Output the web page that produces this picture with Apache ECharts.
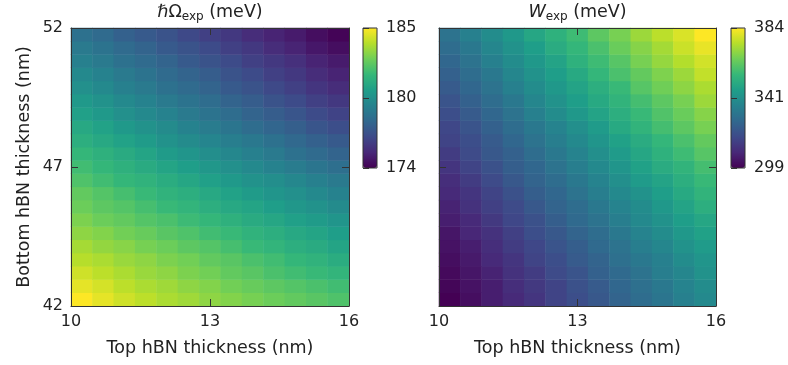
<!DOCTYPE html>
<html>
<head>
<meta charset="utf-8">
<script src="https://cdn.jsdelivr.net/npm/echarts/dist/echarts.min.js"></script>
<style>
html, body { margin: 0; padding: 0; background: #fff; }
#main { width: 788px; height: 365px; }
</style>
</head>
<body>
<div id="main"></div>
<script>
var myChart = echarts.init(document.getElementById('main'));

// top hBN thickness (nm), 13 columns
var xCats = ['10', '10.5', '11', '11.5', '12', '12.5', '13', '13.5', '14', '14.5', '15', '15.5', '16'];
// bottom hBN thickness (nm), 21 rows, from 42 upward
var yCats = ['42', '42.5', '43', '43.5', '44', '44.5', '45', '45.5', '46', '46.5', '47',
    '47.5', '48', '48.5', '49', '49.5', '50', '50.5', '51', '51.5', '52'];

var xTickLabels = ['10', '13', '16'];
var yTickLabels = ['42', '47', '52'];
var omegaTicks = ['174', '180', '185'];
var widthTicks = ['299', '341', '384'];
var omegaRange = [174.4, 185.4];
var widthRange = [298.9, 383.7];

// hbar*Omega_exp (meV), one row per bottom thickness (42 nm first)
var omegaRows = [
    [185.4, 185.0, 184.6, 184.3, 184.0, 183.8, 183.5, 183.3, 183.1, 182.9, 182.7, 182.5, 182.3],
    [185.0, 184.7, 184.3, 184.0, 183.8, 183.5, 183.3, 183.0, 182.8, 182.6, 182.4, 182.2, 182.0],
    [184.6, 184.3, 184.0, 183.7, 183.5, 183.2, 183.0, 182.7, 182.5, 182.2, 182.0, 181.8, 181.6],
    [184.2, 184.0, 183.7, 183.5, 183.2, 183.0, 182.7, 182.5, 182.2, 182.0, 181.7, 181.5, 181.2],
    [183.9, 183.6, 183.4, 183.1, 182.9, 182.6, 182.4, 182.1, 181.8, 181.6, 181.3, 181.1, 180.8],
    [183.5, 183.3, 183.0, 182.8, 182.5, 182.3, 182.0, 181.8, 181.5, 181.3, 181.0, 180.8, 180.5],
    [183.2, 182.9, 182.7, 182.4, 182.2, 181.9, 181.7, 181.4, 181.1, 180.9, 180.6, 180.4, 180.1],
    [182.9, 182.6, 182.4, 182.1, 181.8, 181.6, 181.3, 181.0, 180.8, 180.5, 180.2, 180.0, 179.7],
    [182.7, 182.4, 182.1, 181.8, 181.5, 181.3, 181.0, 180.7, 180.4, 180.1, 179.9, 179.6, 179.3],
    [182.3, 182.0, 181.7, 181.5, 181.2, 180.9, 180.6, 180.3, 180.0, 179.8, 179.5, 179.2, 178.9],
    [182.0, 181.7, 181.4, 181.1, 180.8, 180.5, 180.2, 179.9, 179.6, 179.3, 179.0, 178.7, 178.4],
    [181.7, 181.4, 181.1, 180.8, 180.4, 180.1, 179.8, 179.5, 179.2, 178.9, 178.5, 178.2, 177.9],
    [181.3, 181.0, 180.7, 180.4, 180.0, 179.7, 179.4, 179.1, 178.8, 178.5, 178.1, 177.8, 177.5],
    [181.0, 180.7, 180.3, 180.0, 179.7, 179.3, 179.0, 178.7, 178.3, 178.0, 177.7, 177.3, 177.0],
    [180.6, 180.3, 179.9, 179.6, 179.3, 178.9, 178.6, 178.3, 177.9, 177.6, 177.3, 176.9, 176.6],
    [180.3, 180.0, 179.6, 179.3, 178.9, 178.6, 178.3, 177.9, 177.6, 177.2, 176.9, 176.5, 176.2],
    [179.9, 179.6, 179.2, 178.9, 178.5, 178.2, 177.9, 177.5, 177.2, 176.8, 176.5, 176.1, 175.8],
    [179.6, 179.3, 178.9, 178.6, 178.2, 177.9, 177.6, 177.2, 176.9, 176.5, 176.2, 175.8, 175.5],
    [179.2, 178.9, 178.5, 178.2, 177.9, 177.5, 177.2, 176.9, 176.5, 176.2, 175.9, 175.5, 175.2],
    [178.9, 178.6, 178.2, 177.9, 177.5, 177.2, 176.9, 176.5, 176.2, 175.8, 175.5, 175.1, 174.8],
    [178.5, 178.2, 177.8, 177.5, 177.2, 176.8, 176.5, 176.2, 175.8, 175.5, 175.2, 174.8, 174.5]
];

// W_exp (meV), same layout
var widthRows = [
    [299, 302, 306, 309, 312, 316, 319, 322, 326, 329, 332, 336, 339],
    [300, 303, 306, 310, 313, 316, 320, 323, 327, 330, 333, 337, 340],
    [301, 304, 307, 311, 314, 318, 321, 325, 328, 331, 335, 338, 342],
    [302, 305, 309, 312, 316, 319, 323, 326, 330, 333, 336, 340, 343],
    [303, 306, 310, 314, 317, 321, 324, 328, 331, 335, 338, 342, 345],
    [304, 308, 311, 315, 319, 322, 326, 329, 333, 337, 340, 344, 347],
    [306, 309, 313, 317, 320, 324, 328, 331, 335, 339, 342, 346, 349],
    [307, 311, 315, 318, 322, 326, 329, 333, 337, 340, 344, 348, 352],
    [309, 312, 316, 320, 324, 327, 331, 335, 339, 342, 346, 350, 354],
    [310, 314, 318, 322, 326, 329, 333, 337, 341, 345, 348, 352, 356],
    [312, 316, 320, 324, 327, 331, 335, 339, 343, 347, 351, 354, 358],
    [314, 318, 322, 325, 329, 333, 337, 341, 345, 349, 353, 357, 361],
    [316, 319, 323, 327, 331, 335, 339, 343, 347, 351, 355, 359, 363],
    [317, 321, 325, 329, 333, 337, 341, 345, 350, 354, 358, 362, 366],
    [319, 323, 327, 331, 336, 340, 344, 348, 352, 356, 360, 364, 368],
    [321, 325, 329, 333, 338, 342, 346, 350, 354, 358, 362, 366, 371],
    [323, 327, 331, 336, 340, 344, 348, 352, 356, 361, 365, 369, 373],
    [325, 329, 333, 338, 342, 346, 350, 355, 359, 363, 367, 371, 376],
    [327, 331, 336, 340, 344, 348, 353, 357, 361, 366, 370, 374, 378],
    [329, 333, 338, 342, 346, 351, 355, 359, 364, 368, 372, 377, 381],
    [331, 336, 340, 344, 349, 353, 357, 362, 366, 371, 375, 379, 384]
];

var viridis = ['#440154', '#482878', '#3e4a89', '#31688e', '#26828e',
    '#1f9e89', '#35b779', '#6ece58', '#b5de2b', '#fde725'];

var FONT = 'DejaVu Sans';
var INK = '#222';
var FRAME = '#333';
var TICK_SIZE = 16;
var LABEL_SIZE = 17.5;

function toCells(rows) {
    var d = [];
    rows.forEach(function (row, yi) {
        row.forEach(function (v, xi) {
            d.push([xi, yi, v]);
        });
    });
    return d;
}

// value axis 0..2 sitting on top of a heatmap grid, used for frame + ticks
function frameAxis(grid, pos, labels, extra) {
    var ax = {
        gridIndex: grid,
        type: 'value',
        position: pos,
        min: 0,
        max: 2,
        interval: 1,
        z: 10,
        axisLine: { show: true, lineStyle: { color: FRAME, width: 1 } },
        axisTick: { show: true, inside: true, length: 7, lineStyle: { color: FRAME, width: 1 } },
        splitLine: { show: false },
        axisLabel: {
            show: !!labels,
            margin: 8,
            fontSize: TICK_SIZE,
            fontFamily: FONT,
            color: INK,
            showMinLabel: true,
            showMaxLabel: true,
            formatter: function (v) { return labels ? labels[Math.round(v)] : ''; }
        }
    };
    if (extra) {
        for (var k in extra) ax[k] = extra[k];
    }
    return ax;
}

function catAxis(grid, data) {
    return { gridIndex: grid, type: 'category', data: data, show: false };
}

function titleName(main, mainStyle) {
    return {
        name: '{m|' + main + '}{s|exp}{n| (meV)}',
        nameLocation: 'middle',
        nameGap: 5,
        nameTextStyle: {
            verticalAlign: 'bottom',
            rich: {
                m: { fontSize: LABEL_SIZE, fontFamily: FONT, color: INK, lineHeight: 22, fontStyle: mainStyle },
                s: { fontSize: 12, fontFamily: FONT, color: INK, lineHeight: 13, verticalAlign: 'bottom' },
                n: { fontSize: LABEL_SIZE, fontFamily: FONT, color: INK, lineHeight: 22 }
            }
        }
    };
}

var xName = {
    name: 'Top hBN thickness (nm)',
    nameLocation: 'middle',
    nameGap: 33,
    nameTextStyle: { fontSize: LABEL_SIZE, fontFamily: FONT, color: INK }
};

// colorbar: ticks on the left (inside), labels on the right
function cbAxes(grid, labels) {
    return [
        {
            gridIndex: grid, type: 'value', position: 'right', min: 0, max: 2, interval: 1, z: 10,
            axisLine: { show: false }, axisTick: { show: false }, splitLine: { show: false },
            axisLabel: {
                margin: 9, fontSize: TICK_SIZE, fontFamily: FONT, color: INK,
                showMinLabel: true, showMaxLabel: true,
                formatter: function (v) { return labels[Math.round(v)]; }
            }
        },
        {
            gridIndex: grid, type: 'value', position: 'left', min: 0, max: 2, interval: 1, z: 10,
            axisLine: { show: false }, splitLine: { show: false }, axisLabel: { show: false },
            axisTick: { show: true, inside: true, length: 6, lineStyle: { color: FRAME } }
        }
    ];
}

function cbX(grid) {
    return { gridIndex: grid, type: 'value', show: false, min: 0, max: 1 };
}

var option = {
    animation: false,
    backgroundColor: '#fff',
    grid: [
        { left: 71, top: 28, width: 278, height: 278, outerBoundsMode: 'none' },
        { left: 439, top: 28, width: 277, height: 278, outerBoundsMode: 'none' },
        { left: 363, top: 28, width: 14, height: 140, show: true, z: 10,
          borderColor: FRAME, borderWidth: 1, backgroundColor: 'transparent', outerBoundsMode: 'none' },
        { left: 731, top: 28, width: 14, height: 140, show: true, z: 10,
          borderColor: FRAME, borderWidth: 1, backgroundColor: 'transparent', outerBoundsMode: 'none' }
    ],
    xAxis: [
        catAxis(0, xCats),
        frameAxis(0, 'bottom', xTickLabels, xName),
        frameAxis(0, 'top', null, titleName('\u210FΩ', 'normal')),
        catAxis(1, xCats),
        frameAxis(1, 'bottom', xTickLabels, xName),
        frameAxis(1, 'top', null, titleName('W', 'italic')),
        cbX(2),
        cbX(3)
    ],
    yAxis: [
        catAxis(0, yCats),
        frameAxis(0, 'left', yTickLabels, {
            name: 'Bottom hBN thickness (nm)',
            nameLocation: 'middle',
            nameGap: 38,
            nameTextStyle: { fontSize: LABEL_SIZE, fontFamily: FONT, color: INK }
        }),
        frameAxis(0, 'right', null),
        catAxis(1, yCats),
        frameAxis(1, 'left', null),
        frameAxis(1, 'right', null)
    ].concat(cbAxes(2, omegaTicks), cbAxes(3, widthTicks)),
    visualMap: [
        {
            type: 'continuous', seriesIndex: 0,
            min: omegaRange[0], max: omegaRange[1],
            inRange: { color: viridis },
            calculable: false, hoverLink: false, text: null,
            left: 363, top: 28, padding: 0,
            itemWidth: 14, itemHeight: 140
        },
        {
            type: 'continuous', seriesIndex: 1,
            min: widthRange[0], max: widthRange[1],
            inRange: { color: viridis },
            calculable: false, hoverLink: false, text: null,
            left: 731, top: 28, padding: 0,
            itemWidth: 14, itemHeight: 140
        }
    ],
    series: [
        {
            name: 'omega',
            type: 'heatmap',
            xAxisIndex: 0, yAxisIndex: 0,
            data: toCells(omegaRows),
            itemStyle: { borderWidth: 0 },
            emphasis: { disabled: true }
        },
        {
            name: 'width',
            type: 'heatmap',
            xAxisIndex: 3, yAxisIndex: 3,
            data: toCells(widthRows),
            itemStyle: { borderWidth: 0 },
            emphasis: { disabled: true }
        }
    ]
};
myChart.setOption(option);
</script>
</body>
</html>
